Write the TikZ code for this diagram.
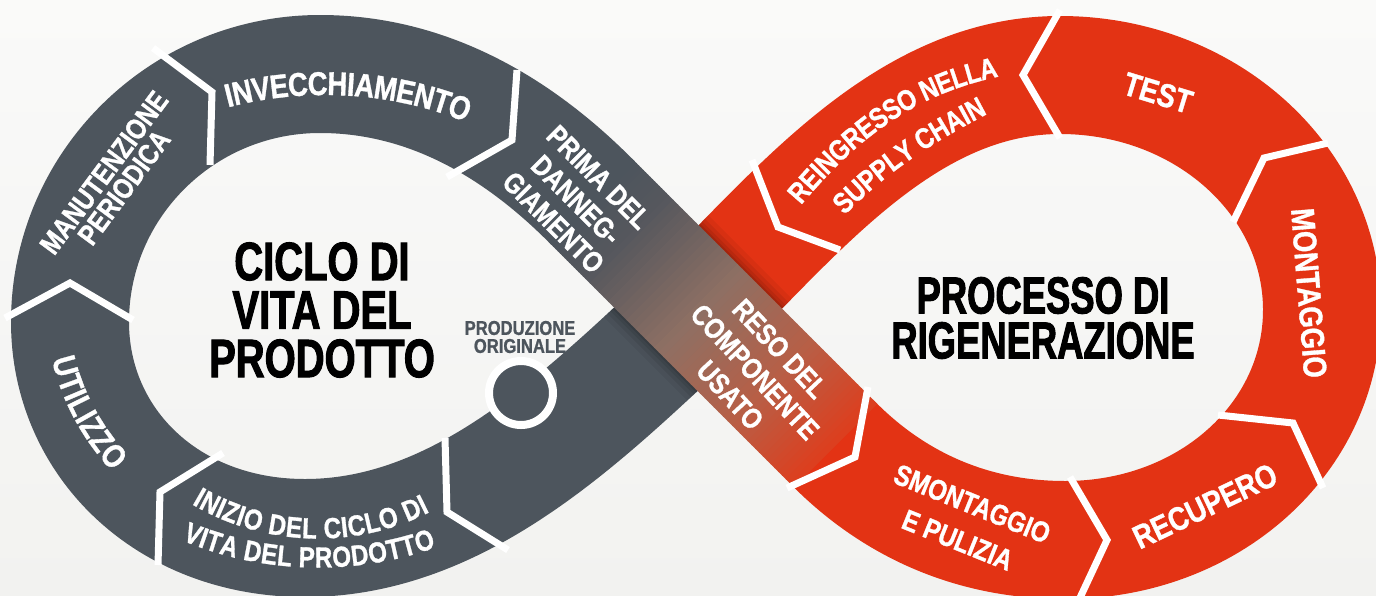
\documentclass[tikz,border=0pt]{standalone}
\usepackage{fontspec}
\newfontfamily\lblfam{Liberation Sans}[UprightFont=* Bold, FakeStretch=0.83, FakeBold=1]
\newfontfamily\ttlfamA{Liberation Sans}[UprightFont=* Bold, FakeStretch=0.74, FakeBold=1.8]
\newfontfamily\ttlfamB{Liberation Sans}[UprightFont=* Bold, FakeStretch=0.70, FakeBold=1.8]
\newcommand\lfA{\lblfam\fontsize{33}{33}\selectfont}
\newcommand\lfB{\lblfam\fontsize{29}{29}\selectfont}
\usetikzlibrary{calc,decorations.text}
\definecolor{grayc}{RGB}{77,85,93}
\definecolor{redc}{RGB}{227,51,20}
\definecolor{bgtop}{RGB}{250,250,249}
\definecolor{bgbot}{RGB}{242,242,240}
\begin{document}
\begin{tikzpicture}[x=1pt,y=-1pt,
  band/.style={line width=118pt, line cap=butt, line join=round},
  sepline/.style={draw=white, line width=7pt, line join=miter, line cap=butt},
  lblA/.style={text=white, inner sep=0pt, align=center, font=\lfA},
  lblB/.style={text=white, inner sep=0pt, align=center},
  ttl/.style={text=black, inner sep=0pt, align=center},
  curvetext/.style={decorate, decoration={text along path, text align=center, text color=white, #1}}]

\useasboundingbox (0,0) rectangle (1376,595);
\shade[top color=bgtop, bottom color=bgbot] (0,0) rectangle (1376,595);

\coordinate (C) at (699,309);
\coordinate (S1) at (590,200);
\coordinate (S2) at (835,445);

% gray loop (left)
\draw[band, grayc] (C) .. controls (589,411) and (465,538) .. (305,538)
   .. controls (167,538) and (70,442) .. (70,322)
   .. controls (70,185) and (182,74) .. (320,74)
   .. controls (420,74) and (510,120) .. (S1) -- ++(3,3);
% red loop (right)
\draw[band, redc] (C) .. controls (804,204) and (910,75) .. (1060,75)
   .. controls (1205,75) and (1322,180) .. (1322,310)
   .. controls (1322,437) and (1210,540) .. (1065,540)
   .. controls (960,540) and (885,495) .. (S2) -- ++(-3,-3);

% soft shadow of the upper band on the lower band
\foreach \w/\op in {2/0.10, 5/0.08, 9/0.07, 14/0.05}{
  \begin{scope}
    \pgfmathsetmacro{\hw}{(59+\w)/sqrt(2)}
    \clip ($(S1)!0.1!(S2)+(\hw,-\hw)$) -- ($(S1)!0.85!(S2)+(\hw,-\hw)$)
       -- ($(S1)!0.85!(S2)-(\hw,-\hw)$) -- ($(S1)!0.1!(S2)-(\hw,-\hw)$) -- cycle;
    \draw[band, black, opacity=\op] (C) .. controls (589,411) and (465,538) .. (305,538);
    \draw[band, black, opacity=\op] (C) .. controls (804,204) and (910,75) .. (1060,75);
  \end{scope}
}

% upper crossing band with gradient
\foreach \sa/\sb/\rA/\gA/\bA/\rB/\gB/\bB in {0/0.15/77/85/93/86/88/94, 0.15/0.45/86/88/94/142/112/100, 0.45/0.75/142/112/100/185/95/70, 0.75/1/185/95/70/222/62/30}{
  \foreach \j in {0,...,15}{
    \pgfmathsetmacro{\slo}{\sa+(\sb-\sa)*\j/16}
    \pgfmathsetmacro{\shi}{\sa+(\sb-\sa)*(\j+1)/16+0.003}
    \pgfmathtruncatemacro{\cR}{\rA+(\rB-\rA)*(\j+0.5)/16}
    \pgfmathtruncatemacro{\cG}{\gA+(\gB-\gA)*(\j+0.5)/16}
    \pgfmathtruncatemacro{\cB}{\bA+(\bB-\bA)*(\j+0.5)/16}
    \definecolor{slc}{RGB}{\cR,\cG,\cB}
    \fill[slc] ($(S1)!\slo!(S2)+(41.72,-41.72)$) -- ($(S1)!\shi!(S2)+(41.72,-41.72)$)
      -- ($(S1)!\shi!(S2)-(41.72,-41.72)$) -- ($(S1)!\slo!(S2)-(41.72,-41.72)$) -- cycle;
  }
}

% separators (chevrons)
\draw[sepline] (153,48) -- (212,92) -- (210,165);
\draw[sepline] (517,70) -- (512,140) -- (447,177);
\draw[sepline] (5,318) -- (70,283) -- (133,320);
\draw[sepline] (158,565) -- (160,492) -- (223,453);
\draw[sepline] (445,438) -- (447,512) -- (508,550);
\draw[sepline] (868,387) -- (855,457) -- (787,488);
\draw[sepline] (1070,477) -- (1107,540) -- (1078,602);
\draw[sepline] (1218,415) -- (1293,423) -- (1323,488);
\draw[sepline] (1233,222) -- (1264,158) -- (1328,143);
\draw[sepline] (1060,10) -- (1023,75) -- (1060,138);
\draw[sepline] (752,160) -- (778,227) -- (840,250);

% production circle
\node[circle, fill=grayc, draw=white, line width=8pt, minimum size=64pt, inner sep=0pt] (prodc) at (521,393) {};
\node[inner sep=0pt, align=center, text=grayc, font={\lblfam\fontsize{20}{18}\selectfont}] (prodlbl) at (520,337) {PRODUZIONE\\ORIGINALE};

% titles
\node[ttl, font={\ttlfamA\fontsize{54}{48.5}\selectfont}] (t1) at (322,310) {CICLO DI\\VITA DEL\\PRODOTTO};
\node[ttl, font={\ttlfamB\fontsize{52}{45}\selectfont}] (t2) at (1043,318) {PROCESSO DI\\RIGENERAZIONE};

% curved labels
\path[curvetext={text={|\lfA|INVECCHIAMENTO}, raise=-12pt}]
  ($(325,307)+(236:300 and 224)$) arc[start angle=236, end angle=314, x radius=300, y radius=224];
\path[curvetext={text={|\lfA|UTILIZZO}, raise=-12pt}]
  ($(320,307)+(180:262 and 240)$) arc[start angle=180, end angle=128, x radius=262, y radius=240];
\path[curvetext={text={|\lfB|INIZIO DEL CICLO DI}, raise=-10.5pt}]
  ($(318,307)+(150:230 and 221)$) arc[start angle=150, end angle=34, x radius=230, y radius=221];
\path[curvetext={text={|\lfB|VITA DEL PRODOTTO}, raise=-10.5pt}]
  ($(318,307)+(150:295 and 250)$) arc[start angle=150, end angle=34, x radius=295, y radius=250];
\path[curvetext={text={|\lfB|REINGRESSO NELLA}, raise=-10.5pt}]
  (781,212) -- (801,189) .. controls (853,129) and (908,88) .. (985,69) -- (1014,62);
\path[curvetext={text={|\lfB|SUPPLY CHAIN}, raise=-10.5pt}]
  (820,225) -- (841,204) .. controls (883,162) and (925,135) .. (978,107) -- (1004,93);

% straight labels
\node[lblB, font={\lblfam\fontsize{29}{25}\selectfont}, rotate=53.5] (manut) at (114,180) {MANUTENZIONE\\PERIODICA};
\node[lblB, font={\lblfam\fontsize{29}{32}\selectfont}, rotate=-45] (prima) at (576,200) {PRIMA DEL\\DANNEG-\\GIAMENTO};
\node[lblB, font={\lblfam\fontsize{29}{34}\selectfont}, rotate=-47] (reso) at (755,372) {RESO DEL\\COMPONENTE\\USATO};
\node[lblA, rotate=-17] (test) at (1158,93) {TEST};
\node[lblA, rotate=-85.5] (mont) at (1309,293) {MONTAGGIO};
\node[lblA, rotate=25.5] (recup) at (1205,506) {RECUPERO};
\node[lblB, font={\lblfam\fontsize{29}{39}\selectfont}, rotate=-22] (smont) at (965,522) {SMONTAGGIO\\E PULIZIA};
\end{tikzpicture}
\end{document}
